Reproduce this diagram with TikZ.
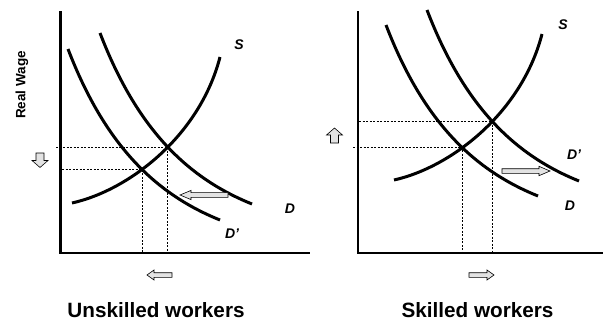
\documentclass[tikz,border=0pt]{standalone}
\usepackage{fontspec}
\setmainfont{Liberation Sans}
\usetikzlibrary{intersections}
% block arrow: tail x, tail y, direction angle, length, shaft half width, head half width, head length
\newcommand\blockarrow[7]{%
  \draw[barrowstyle, shift={(#1,#2)}, rotate=#3]
    (0,-#5) -- (#4-#7,-#5) -- (#4-#7,-#6) -- (#4,0) -- (#4-#7,#6) -- (#4-#7,#5) -- (0,#5) -- cycle;}
\newcommand\dcurvepath{(100,33) .. controls (138,132) and (190,179) .. (252,204)}
\newcommand\scurvepath{(72,203) .. controls (130,190) and (200,135) .. (220,57)}
\begin{document}
\begin{tikzpicture}[x=1pt,y=-1pt,
  axis/.style={line width=2.8pt},
  curve/.style={line width=3pt},
  guide/.style={line width=0.6pt, dash pattern=on 2pt off 1.5pt},
  lbl/.style={font=\fontsize{14}{16}\selectfont\bfseries\itshape, inner sep=0pt},
  ttl/.style={font=\fontsize{20.7}{24}\selectfont\bfseries, inner sep=0pt, anchor=base},
  ylbl/.style={font=\fontsize{13.5}{15}\selectfont\bfseries, inner sep=0pt, rotate=90},
  barrowstyle/.style={draw=black, line width=0.6pt, fill=gray!22, line join=miter}]
\useasboundingbox (0,0) rectangle (603,322);

% ---------- left panel: unskilled workers ----------
\coordinate (LO) at (60.5,253);
\draw[axis] (60.5,11) |- (310,253);
\draw[curve, name path=LD] \dcurvepath;
\draw[curve, name path=LDp, shift={(-32,16)}] \dcurvepath;
\draw[curve, name path=LS] \scurvepath;
\path[name intersections={of=LS and LD, by=LA}];
\path[name intersections={of=LS and LDp, by=LB}];
\coordinate (LxU) at (56,0);
\coordinate (LxL) at (62,0);
\draw[guide] (LxU |- LA) -- (LA) -- (LA |- LO);
\draw[guide] (LxL |- LB) -- (LB) -- (LB |- LO);
\node[lbl] (LSl) at (239,45) {S};
\node[lbl] (LDl) at (290,209) {D};
\node[lbl] (LDpl) at (232,234) {D'};
\node[ylbl] (ylab) at (22,85) {Real Wage};
\blockarrow{228}{195}{180}{48}{2.4}{4.6}{11}
\blockarrow{40}{153}{-90}{14.5}{4}{8}{7}
\blockarrow{172}{275}{180}{25}{2.3}{5}{7}
\node[ttl] (Ltitle) at (156,317) {Unskilled workers};

% ---------- right panel: skilled workers ----------
\coordinate (RO) at (358,253);
\draw[axis] (358,11) |- (603,253);
\draw[curve, name path=RD, shift={(286,-8)}] \dcurvepath;
\draw[curve, name path=RDp, shift={(327,-23)}] \dcurvepath;
\draw[curve, name path=RS, shift={(322,-23)}] \scurvepath;
\path[name intersections={of=RS and RDp, by=RA}];
\path[name intersections={of=RS and RD, by=RB}];
\coordinate (RxU) at (359,0);
\coordinate (RxL) at (353,0);
\draw[guide] (RxU |- RA) -- (RA) -- (RA |- RO);
\draw[guide] (RxL |- RB) -- (RB) -- (RB |- RO);
\node[lbl] (RSl) at (563,25) {S};
\node[lbl] (RDpl) at (574,155) {D'};
\node[lbl] (RDl) at (570,206) {D};
\blockarrow{502}{171}{0}{48}{2.3}{4.7}{11}
\blockarrow{334.5}{143}{90}{15}{4}{8}{7}
\blockarrow{469}{275}{0}{25}{2.3}{5}{7}
\node[ttl] (Rtitle) at (477.5,317) {Skilled workers};
\end{tikzpicture}
\end{document}
